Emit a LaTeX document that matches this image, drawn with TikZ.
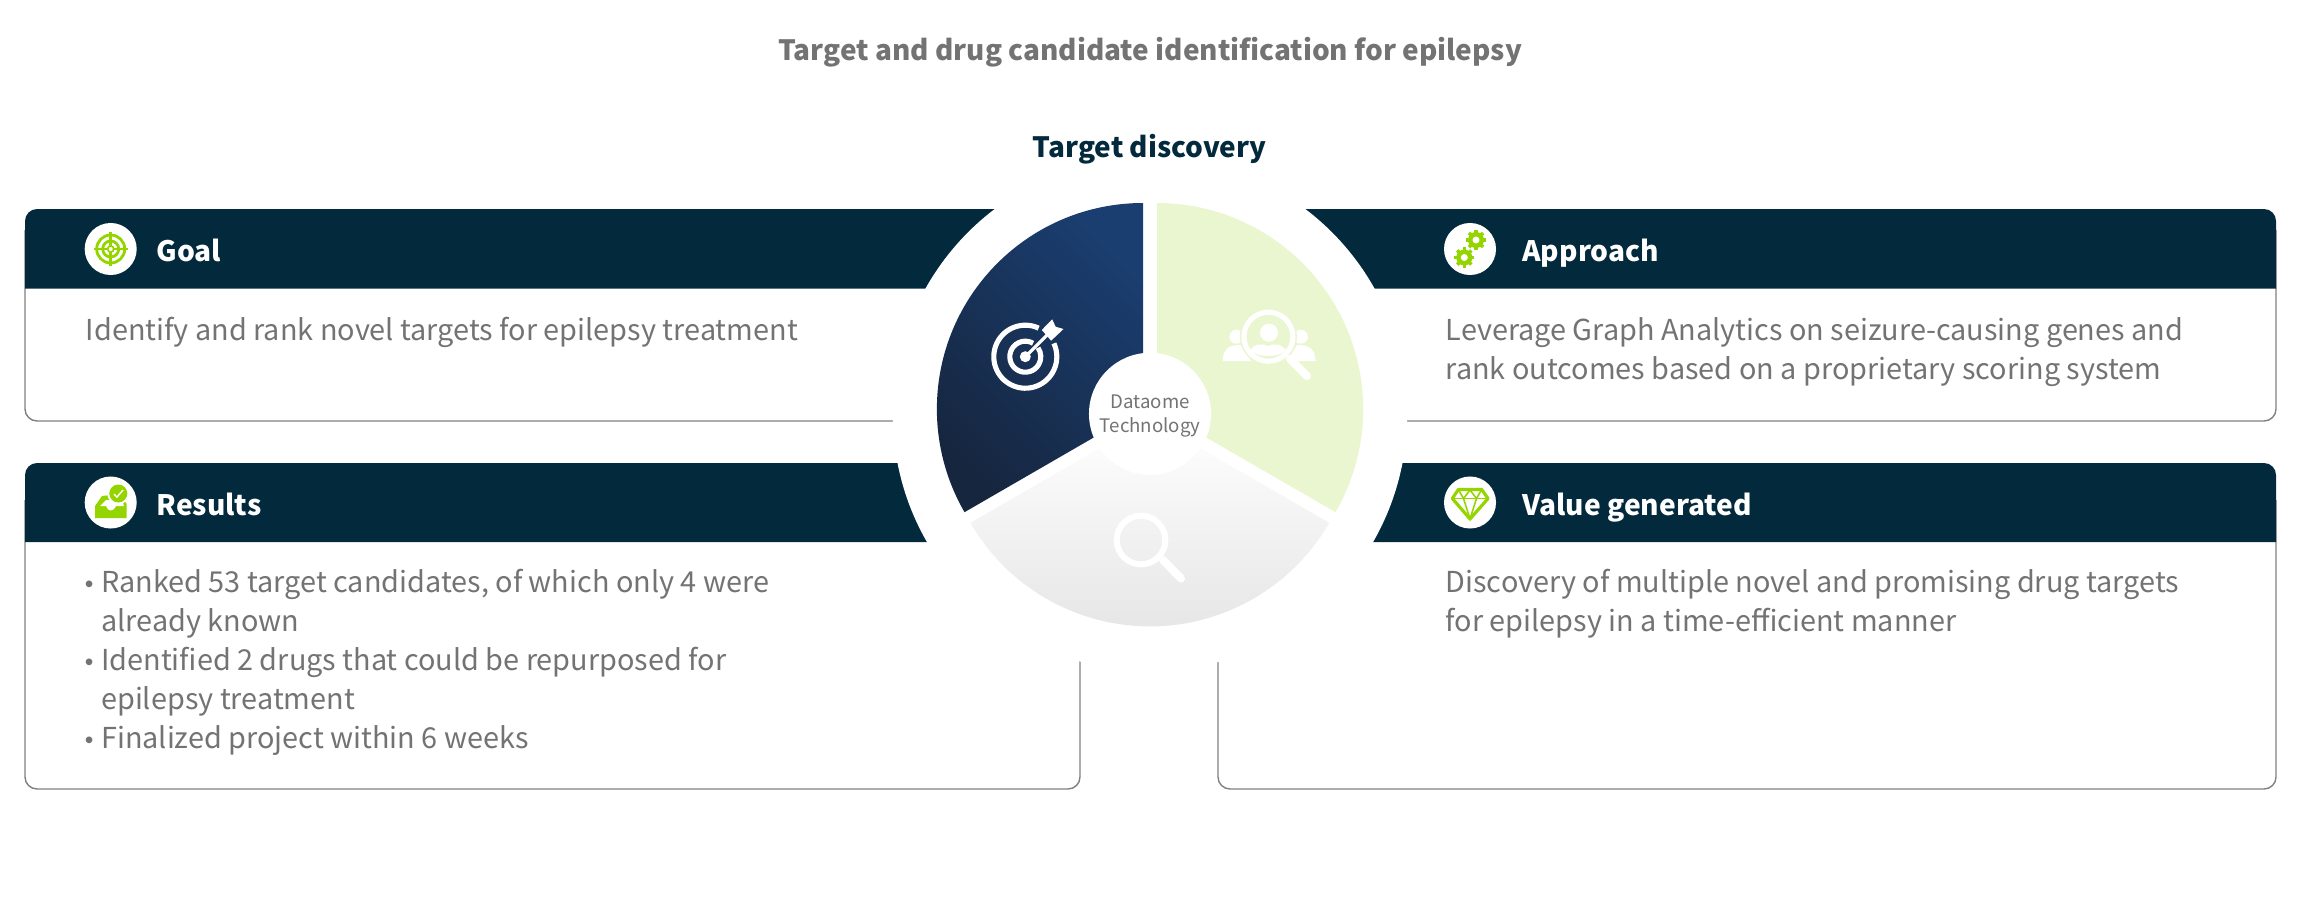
\documentclass[tikz,border=0pt]{standalone}
\usepackage{fontspec}
\setmainfont{Noto Sans CJK SC}
\newfontfamily\dotfont{Liberation Sans}
\definecolor{barblue}{HTML}{03293C}
\definecolor{txtgray}{HTML}{737373}
\definecolor{edgegray}{HTML}{808080}
\definecolor{leafgreen}{HTML}{94D500}
\definecolor{palegreen}{HTML}{EAF6D0}
\definecolor{wedgedark}{HTML}{16263F}
\definecolor{wedgemid}{HTML}{153050}
\definecolor{wedgelight}{HTML}{1A3E70}
\tikzset{
  bodytext/.style={anchor=base west, inner sep=0pt, text=txtgray, font=\fontsize{8.2pt}{10pt}\selectfont},
  dottext/.style={anchor=base, inner sep=0pt, text=txtgray, font=\dotfont\fontsize{7pt}{8pt}\selectfont},
  headtext/.style={anchor=base west, inner sep=0pt, text=white, font=\fontsize{8pt}{10pt}\selectfont\bfseries},
  boxline/.style={draw=edgegray, line width=.4pt},
  iconspot/.style={fill=white, minimum size=.52cm, circle, inner sep=0pt},
  whiteicon/.style={draw=white, line width=1.45pt},
  greenicon/.style={draw=leafgreen, line width=.6pt}
}
\begin{document}
\begin{tikzpicture}[x=.01cm,y=-.01cm]
\useasboundingbox (0,0) rectangle (2300,900);

% outlines of the four boxes
\draw [boxline, rounded corners=.12cm] (1000,421) -- (25,421) -- (25,230);
\draw [boxline, rounded corners=.12cm] (1300,421) -- (2276,421) -- (2276,230);
\draw [boxline, rounded corners=.12cm] (1080,640) -- (1080,789) -- (25,789) -- (25,500);
\draw [boxline, rounded corners=.12cm] (1218,640) -- (1218,789) -- (2276,789) -- (2276,500);

% header bars
\fill [barblue] (25,288.5) [rounded corners=.12cm] -- (25,209) [sharp corners] -- (1150,209) -- (1150,288.5) -- cycle;
\fill [barblue] (2276,288.5) [rounded corners=.12cm] -- (2276,209) [sharp corners] -- (1150,209) -- (1150,288.5) -- cycle;
\fill [barblue] (25,542) [rounded corners=.12cm] -- (25,463) [sharp corners] -- (1150,463) -- (1150,542) -- cycle;
\fill [barblue] (2276,542) [rounded corners=.12cm] -- (2276,463) [sharp corners] -- (1150,463) -- (1150,542) -- cycle;

% the white ring cuts bars and lines
\fill [white] (1150,414) circle (2.57cm);

% wedges
\path [shade, top color=wedgelight, middle color=wedgemid, bottom color=wedgedark, shading angle=-45]
  (1143,409) -- (1143,203) arc [start angle=90, end angle=210, radius=2.06cm] -- cycle;
\fill [palegreen] (1157,409) -- (1157,203) arc [start angle=90, end angle=-30, radius=2.06cm] -- cycle;
\path [shade, top color=white, middle color=black!8.5, bottom color=black!11]
  (1150,419.3) -- +(-179.5,103.5) arc [start angle=210, end angle=330, radius=2.07cm] -- cycle;
\fill [white] (1150,413.8) circle (.61cm);

% target on the dark wedge
\coordinate (bull) at (1025.3,356.7);
\fill [white] (bull) circle (.055cm);
\draw [whiteicon] ([shift={(65:.315cm)}]bull) arc [start angle=65, end angle=385, radius=.315cm];
\draw [whiteicon] ([shift={(60:.155cm)}]bull) arc [start angle=60, end angle=395, radius=.155cm];
\draw [white, line width=.9pt] (bull) -- (1047,335);
\fill [white] (1041.8,330) -- (1052.2,319.3) -- (1055.6,326.7) -- (1063.5,329) -- (1051.1,340.7) -- cycle;

% people under a lens on the green wedge
\coordinate (lens) at (1268.4,336.7);
\fill [white] (1236.4,336.7) circle (.07cm);
\fill [white] (1300.8,336.7) circle (.07cm);
\fill [white] (1222.6,361) .. controls (1223,347) and (1231,345) .. (1241,345) -- (1251,361) -- cycle;
\fill [white] (1315.6,361) .. controls (1315,347) and (1307,345) .. (1297,345) -- (1287,361) -- cycle;
\fill [palegreen] (lens) circle (.285cm);
\draw [whiteicon] (lens) circle (.245cm);
\fill [white] (1269,332.7) circle (.09cm);
\fill [white] (1250,350) .. controls (1254,344) and (1262,343) .. (1268,346) .. controls (1274,343) and (1282,344) .. (1286,350) .. controls (1280,358) and (1257,358) .. (1250,350) -- cycle;
\draw [white, line width=2.3pt, line cap=round] (1290,359) -- (1307,376);

% plain lens on the grey wedge
\coordinate (glass) at (1141,540);
\draw [whiteicon, line width=1.7pt] (glass) circle (.243cm);
\draw [white, line width=2.3pt, line cap=round] (1163,560) -- (1181,578.5);

% small icon spots
\node [iconspot] (goalspot) at (110.7,249) {};
\node [iconspot] (resultspot) at (110.7,502.5) {};
\node [iconspot] (approachspot) at (1470,249) {};
\node [iconspot] (valuespot) at (1470,502.5) {};

% crosshair
\draw [greenicon, line width=.8pt] (goalspot) circle (.14cm);
\draw [greenicon, line width=.8pt] (goalspot) circle (.08cm);
\draw [greenicon, line width=.5pt] (goalspot) circle (.03cm);
\draw [greenicon, line width=.8pt] (93.7,249) -- (127.7,249);
\draw [greenicon, line width=.8pt] (110.7,232) -- (110.7,266);
\fill [white] (goalspot) circle (.02cm);

% tray with a tick
\fill [leafgreen] (95,518) -- (126.7,518) -- (126.7,504) -- (120,494) -- (102,496) -- (95,506) -- cycle;
\fill [white] (100,506) -- (106,500) -- (122,500) -- (124,506) -- (116,506) .. controls (113,512) and (108,512) .. (106,506) -- cycle;
\fill [white] (118.3,493.5) circle (.11cm);
\fill [leafgreen] (118.3,493.5) circle (.09cm);
\draw [white, line width=.4pt] (114,494) -- (117,497) -- (123,490);

% gears
\foreach \gearx/\geary in {1476/240, 1464.3/257.5} {
  \fill [leafgreen] (\gearx,\geary) circle (.08cm);
  \foreach \toothangle in {0,45,...,315}
    \draw [leafgreen, line width=1pt] (\gearx,\geary) -- +(\toothangle:.1cm);
  \fill [white] (\gearx,\geary) circle (.035cm);
}

% diamond
\draw [greenicon, line width=.9pt, line join=round] (1458.3,489.5) -- (1481.7,489.5) -- (1488,498.5) -- (1470,519) -- (1452.3,498.5) -- cycle;
\draw [greenicon, line width=.45pt] (1452.3,498.5) -- (1488,498.5);
\draw [greenicon, line width=.45pt] (1463.5,498.5) -- (1470,519) -- (1476.5,498.5);
\draw [greenicon, line width=.45pt] (1458.3,489.5) -- (1463.5,498.5) -- (1470,490) -- (1476.5,498.5) -- (1481.7,489.5);

% titles
\node [anchor=base, inner sep=0pt, text=txtgray, font=\fontsize{7.95pt}{10pt}\selectfont\bfseries] (charttitle) at (1150,60) {Target and drug candidate identification for epilepsy};
\node [anchor=base, inner sep=0pt, text=barblue, font=\fontsize{7.95pt}{10pt}\selectfont\bfseries] (wheeltitle) at (1149.5,157) {Target discovery};
\node [anchor=base, inner sep=0pt, text=txtgray, font=\fontsize{5.3pt}{7pt}\selectfont] (hubtop) at (1150.3,408.7) {Dataome};
\node [anchor=base, inner sep=0pt, text=txtgray, font=\fontsize{5.3pt}{7pt}\selectfont] (hubbottom) at (1150.3,432.7) {Technology};

% headings
\node [headtext] (goalhead) at (155.7,261.5) {Goal};
\node [headtext] (resulthead) at (155.7,515.5) {Results};
\node [headtext] (approachhead) at (1521.7,261.5) {Approach};
\node [headtext] (valuehead) at (1521.7,515.5) {Value generated};

% box texts
\node [bodytext] (goalline) at (85,340.3) {Identify and rank novel targets for epilepsy treatment};
\node [bodytext] (approachone) at (1445,340.3) {Leverage Graph Analytics on seizure-causing genes and};
\node [bodytext] (approachtwo) at (1445,379) {rank outcomes based on a proprietary scoring system};
\node [bodytext] (valueone) at (1445,592.5) {Discovery of multiple novel and promising drug targets};
\node [bodytext] (valuetwo) at (1445,631.4) {for epilepsy in a time-efficient manner};

\node [dottext] (dotone) at (89.3,592.5) {•};
\node [bodytext] (resultone) at (100.5,592.5) {Ranked 53 target candidates, of which only 4 were};
\node [bodytext] (resulttwo) at (100.5,631.4) {already known};
\node [dottext] (dottwo) at (89.3,670.3) {•};
\node [bodytext] (resultthree) at (100.5,670.3) {Identified 2 drugs that could be repurposed for};
\node [bodytext] (resultfour) at (100.5,709.2) {epilepsy treatment};
\node [dottext] (dotthree) at (89.3,748.1) {•};
\node [bodytext] (resultfive) at (100.5,748.1) {Finalized project within 6 weeks};
\end{tikzpicture}
\end{document}
